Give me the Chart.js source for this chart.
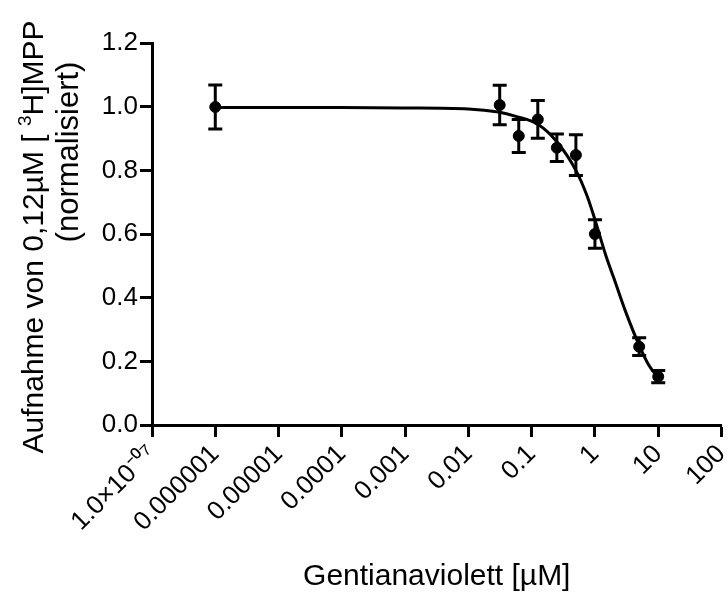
<!DOCTYPE html>
<html>
<head>
<meta charset="utf-8">
<script src="https://cdn.jsdelivr.net/npm/chart.js@4.4.0/dist/chart.umd.min.js"></script>
<style>
  html, body { margin: 0; padding: 0; background: #fff; }
  #wrap { width: 728px; height: 601px; }
</style>
</head>
<body>
<div id="wrap"><canvas id="chart" width="728" height="601"></canvas></div>
<script>
// measured points (concentration in µM, normalised uptake, error)
const conc = [0.000001, 0.03125, 0.0625, 0.125, 0.25, 0.5, 1, 5, 10];
const uptake = [0.999, 1.005, 0.908, 0.960, 0.871, 0.848, 0.600, 0.246, 0.152];
const uptakeErr = [0.069, 0.062, 0.052, 0.059, 0.043, 0.064, 0.045, 0.028, 0.019];

// fitted curve
const curveX = [0.000001, 0.0001, 0.001, 0.01, 0.03, 0.06, 0.125, 0.25, 0.5, 0.75, 1, 1.5, 2, 3, 5, 7, 10];
const curveY = [0.997, 0.997, 0.996, 0.993, 0.983, 0.968, 0.945, 0.89, 0.80, 0.72, 0.645, 0.53, 0.46, 0.36, 0.25, 0.19, 0.148];

// axis ticks
const xTicks = [1e-7, 1e-6, 1e-5, 1e-4, 1e-3, 1e-2, 0.1, 1, 10, 100];
const xTickLabels = ['1.0×10⁻⁰⁷', '0.000001', '0.00001', '0.0001', '0.001', '0.01', '0.1', '1', '10', '100'];

const FONT = '"Liberation Sans", Arial, sans-serif';

// error bars with caps
const errorBars = {
    id: 'errorBars',
    afterDatasetsDraw(chart) {
        const ctx = chart.ctx;
        const xs = chart.scales.x, ys = chart.scales.y;
        ctx.save();
        ctx.strokeStyle = '#000';
        ctx.lineWidth = 3;
        for (let i = 0; i < conc.length; i++) {
            const px = xs.getPixelForValue(conc[i]);
            const top = ys.getPixelForValue(uptake[i] + uptakeErr[i]);
            const bot = ys.getPixelForValue(uptake[i] - uptakeErr[i]);
            ctx.beginPath();
            ctx.moveTo(px, top); ctx.lineTo(px, bot);
            ctx.moveTo(px - 7, top); ctx.lineTo(px + 7, top);
            ctx.moveTo(px - 7, bot); ctx.lineTo(px + 7, bot);
            ctx.stroke();
        }
        ctx.restore();
    }
};

// y axis title, two lines with superscript
const yTitle = {
    id: 'yTitle',
    afterDraw(chart) {
        const ctx = chart.ctx;
        ctx.save();
        ctx.fillStyle = '#000';
        ctx.textBaseline = 'alphabetic';
        ctx.textAlign = 'left';
        const big = '30px ' + FONT, small = '19px ' + FONT;
        const a = 'Aufnahme von 0,12µM [ ', s = '3', b = 'H]MPP';
        ctx.font = big;
        const wa = ctx.measureText(a).width, wb = ctx.measureText(b).width;
        ctx.font = small;
        const ws = ctx.measureText(s).width;
        const total = wa + ws + wb;
        ctx.translate(43, 237);
        ctx.rotate(-Math.PI / 2);
        let x = -total / 2;
        ctx.font = big; ctx.fillText(a, x, 0); x += wa;
        ctx.font = small; ctx.fillText(s, x, -12); x += ws;
        ctx.font = big; ctx.fillText(b, x, 0);
        ctx.restore();

        ctx.save();
        ctx.fillStyle = '#000';
        ctx.font = '31px ' + FONT;
        ctx.textAlign = 'center';
        ctx.translate(78, 152);
        ctx.rotate(-Math.PI / 2);
        ctx.fillText('(normalisiert)', 0, 0);
        ctx.restore();
    }
};

const ctx = document.getElementById('chart').getContext('2d');
const myChart = new Chart(ctx, {
    type: 'scatter',
    data: {
        datasets: [
            {
                label: 'Messwerte',
                data: conc.map((c, i) => ({x: c, y: uptake[i]})),
                backgroundColor: '#000',
                borderColor: '#000',
                pointRadius: 5.5,
                pointHoverRadius: 5.5
            },
            {
                label: 'Fit',
                type: 'line',
                data: curveX.map((c, i) => ({x: c, y: curveY[i]})),
                borderColor: '#000',
                borderWidth: 3,
                pointRadius: 0,
                fill: false,
                cubicInterpolationMode: 'monotone'
            }
        ]
    },
    options: {
        responsive: false,
        animation: false,
        layout: { padding: { top: 43, right: 5, left: 0, bottom: 0 } },
        plugins: {
            legend: { display: false },
            tooltip: { enabled: false }
        },
        scales: {
            x: {
                type: 'logarithmic',
                min: 1e-7,
                max: 100,
                afterBuildTicks: axis => { axis.ticks = xTicks.map(v => ({value: v})); },
                afterFit: axis => {
                    axis.height = 176;
                    axis.paddingRight = 0;
                    axis.paddingLeft = 0;
                },
                ticks: {
                    autoSkip: false,
                    minRotation: 45,
                    maxRotation: 45,
                    padding: 2,
                    color: '#000',
                    font: { family: FONT, size: 26 },
                    callback: (v) => {
                        const i = xTicks.findIndex(t => Math.abs(Math.log10(t) - Math.log10(v)) < 1e-6);
                        return i >= 0 ? xTickLabels[i] : '';
                    }
                },
                grid: { drawOnChartArea: false, tickLength: 12, tickColor: '#000', tickWidth: 3 },
                border: { display: true, color: '#000', width: 3 },
                title: {
                    display: true,
                    text: 'Gentianaviolett [µM]',
                    color: '#000',
                    font: { family: FONT, size: 30 },
                    padding: { top: 0, bottom: 6 }
                }
            },
            y: {
                min: 0,
                max: 1.2,
                afterFit: axis => { axis.width = 152; },
                ticks: {
                    stepSize: 0.2,
                    padding: 2,
                    color: '#000',
                    font: { family: FONT, size: 26 },
                    callback: v => v.toFixed(1)
                },
                grid: { drawOnChartArea: false, tickLength: 12, tickColor: '#000', tickWidth: 3 },
                border: { display: true, color: '#000', width: 3 }
            }
        }
    },
    plugins: [errorBars, yTitle]
});
</script>
</body>
</html>
